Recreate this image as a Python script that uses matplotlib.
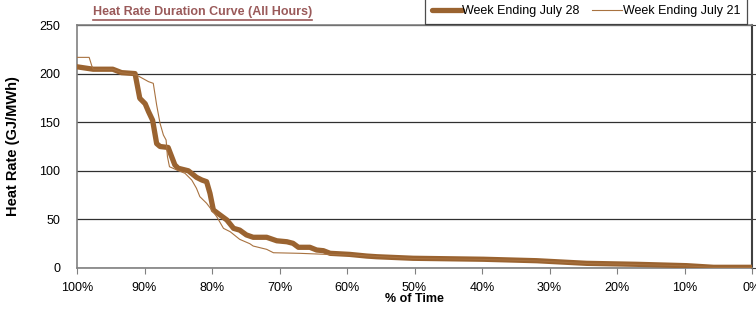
"""Heat rate duration curve, two weeks compared."""

import matplotlib
matplotlib.use("Agg")
import matplotlib.pyplot as plt
from matplotlib.ticker import FuncFormatter

plt.rcParams['font.family'] = ['Liberation Sans', 'DejaVu Sans']

# % of time (x) and heat rate (GJ/MWh)
pct_jul28 = [100, 97.6, 94.7, 93.4, 91.4, 90.7, 89.9, 89.4, 88.8, 88.2, 87.7,
             86.5, 85.5, 85.0, 83.5, 82.3, 81.5, 80.8, 80.3, 79.8, 78.8, 77.8,
             76.8, 75.9, 74.9, 73.9, 71.9, 70.4, 68.9, 68.0, 67.2, 65.5, 64.5,
             63.5, 62.5, 59.6, 57.1, 55.6, 50.2, 39.8, 31.9, 24.5, 17.1, 9.7,
             5.7, 0.0]
hr_jul28 = [207, 204.5, 204.5, 201, 200, 174.6, 169, 160.8, 152, 128, 125,
            124, 106, 102.6, 100, 93.3, 90.5, 88.8, 76.8, 59.7, 54.5, 49.4,
            40.8, 39, 34, 31.6, 31.6, 28, 27, 25.4, 21.3, 21.3, 18.5,
            17.8, 15.1, 14, 12.3, 11.6, 10, 9, 7.5, 4.8, 3.8, 2.4,
            0.7, 0.7]

pct_jul21 = [100, 98.2, 97.8, 97.6, 94.7, 93.4, 91.2, 89.4, 88.7, 88.2, 87.7,
             87.2, 86.8, 86.6, 86.3, 85.2, 84.0, 83.0, 82.3, 81.8, 80.8, 79.3,
             78.3, 77.3, 75.9, 74.4, 73.9, 71.9, 70.9, 67.0, 63.0, 59.6, 50.2,
             39.8, 31.9, 24.5, 17.1, 9.7, 5.7, 0.0]
hr_jul21 = [216.7, 216.7, 207.8, 204.5, 204.5, 201, 198.6, 191.7, 190, 167.7,
            148.9, 136.8, 131.7, 114.5, 104.2, 100.8, 97.4, 90.5, 82, 73.4,
            66.6, 52.8, 40.8, 37.3, 29.5, 25, 22.6, 19.2, 15.7, 15.1, 14,
            13.5, 9.8, 8.8, 7.3, 4.6, 3.6, 2.2, 0.6, 0.6]

series_labels = ['Week Ending July 28', 'Week Ending July 21']
y_ticks = [0, 50, 100, 150, 200, 250]
x_ticks = [100, 90, 80, 70, 60, 50, 40, 30, 20, 10, 0]

fig = plt.figure(figsize=(7.56, 3.10), dpi=100)
ax = fig.add_axes([77 / 756, 1 - 268 / 310, (752 - 77) / 756, (268 - 25) / 310])

ax.plot(pct_jul28, hr_jul28, color='#9a6330', lw=3.8,
        solid_capstyle='round', solid_joinstyle='round', label=series_labels[0], zorder=3)
ax.plot(pct_jul21, hr_jul21, color='#a87240', lw=0.8, label=series_labels[1], zorder=4)

ax.set_xlim(100, 0)
ax.set_ylim(0, 250)
ax.set_xticks(x_ticks)
ax.set_yticks(y_ticks)
ax.xaxis.set_major_formatter(FuncFormatter(lambda v, p: f"{v:.0f}%"))
ax.yaxis.grid(True, color='#303030', lw=0.9)
ax.set_axisbelow(True)

for side in ['left', 'bottom', 'top']:
    ax.spines[side].set_color('#808080')
    ax.spines[side].set_linewidth(1.2)
ax.spines['right'].set_color('#404040')
ax.spines['right'].set_linewidth(1.5)
ax.tick_params(axis='x', direction='out', length=4, width=0.8, color='#808080',
               labelsize=9, pad=6)
ax.tick_params(axis='y', left=False, right=True, direction='out', length=3,
               width=0.8, color='#404040', labelsize=9, pad=9)

ax.set_xlabel('% of Time', fontsize=9, fontweight='bold', labelpad=-1)
ax.set_ylabel('Heat Rate (GJ/MWh)', fontsize=10.5, fontweight='bold', labelpad=14)

leg = ax.legend(loc='upper right', bbox_to_anchor=(747 / 756, 1.005), bbox_transform=fig.transFigure,
                ncol=2, frameon=True, fancybox=False, fontsize=9, handlelength=2.4,
                handletextpad=0.05, columnspacing=1.0, borderpad=0.55, borderaxespad=0)
leg.get_frame().set_edgecolor('#202020')
leg.get_frame().set_linewidth(0.9)

# underlined title
title = fig.text(93 / 756, 1 - 12 / 310, 'Heat Rate Duration Curve (All Hours)',
                 fontsize=9, fontweight='bold', color='#9a5a5a', va='center', ha='left')
fig.canvas.draw()
bb = title.get_window_extent().transformed(fig.transFigure.inverted())
fig.add_artist(plt.Line2D([bb.x0, bb.x1], [bb.y0 - 0.006, bb.y0 - 0.006],
                          transform=fig.transFigure, color='#9a5a5a', lw=1.2))

plt.savefig('out.png', dpi=100)
plt.close()
